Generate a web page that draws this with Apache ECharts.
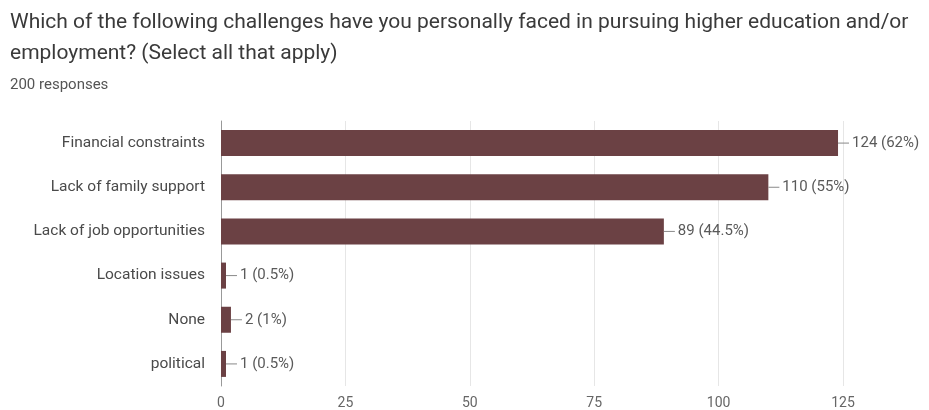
<!DOCTYPE html>
<html>
<head>
<meta charset="utf-8">
<script src="https://cdn.jsdelivr.net/npm/echarts@6/dist/echarts.min.js"></script>
<style>html,body{margin:0;padding:0;background:#fff;}#c{width:929px;height:410px;}</style>
</head>
<body>
<div id="c"></div>
<script>
const categories = ["Financial constraints", "Lack of family support", "Lack of job opportunities", "Location issues", "None", "political"];
const counts = [124, 110, 89, 1, 2, 1];
const percents = ["62%", "55%", "44.5%", "0.5%", "1%", "0.5%"];
const xTicks = [0, 25, 50, 75, 100, 125];

const FONT = 'Roboto, Arial, sans-serif';
const chart = echarts.init(document.getElementById('c'));
chart.setOption({
  animation: false,
  backgroundColor: '#fff',
  textStyle: { fontFamily: FONT },
  title: [
    { text: 'Which of the following challenges have you personally faced in pursuing higher education and/or\nemployment? (Select all that apply)',
      left: 5, top: 2,
      textStyle: { fontSize: 21, fontWeight: 'normal', color: '#3a3a3a', lineHeight: 31, fontFamily: FONT } },
    { text: '200 responses', left: 5, top: 73,
      textStyle: { fontSize: 15, fontWeight: 'normal', color: '#555', fontFamily: FONT } }
  ],
  grid: { left: 221, right: 86, top: 121, bottom: 22, containLabel: false },
  xAxis: {
    type: 'value', min: xTicks[0], max: xTicks[xTicks.length - 1], interval: 25,
    axisLine: { show: false }, axisTick: { show: false },
    splitLine: { show: true, lineStyle: { color: '#e6e6e6', width: 1 } },
    axisLabel: { color: '#666', fontSize: 14, margin: 10, fontFamily: FONT }
  },
  yAxis: {
    type: 'category', data: categories, inverse: true,
    axisLine: { show: true, lineStyle: { color: '#999', width: 1 } },
    axisTick: { show: false },
    axisLabel: { color: '#4a4a4a', fontSize: 15.5, margin: 16, fontFamily: FONT }
  },
  series: [{
    type: 'bar', data: counts, barWidth: 26,
    itemStyle: { color: '#6b4144' },
    label: {
      show: true, position: 'right', distance: 0,
      formatter: p => '{ln|}{t|' + counts[p.dataIndex] + ' (' + percents[p.dataIndex] + ')}',
      rich: {
        ln: { width: 11, height: 1, backgroundColor: '#888' },
        t: { color: '#5a5a5a', fontSize: 15, padding: [0, 0, 0, 3], fontFamily: FONT }
      }
    }
  }]
});
</script>
</body>
</html>
